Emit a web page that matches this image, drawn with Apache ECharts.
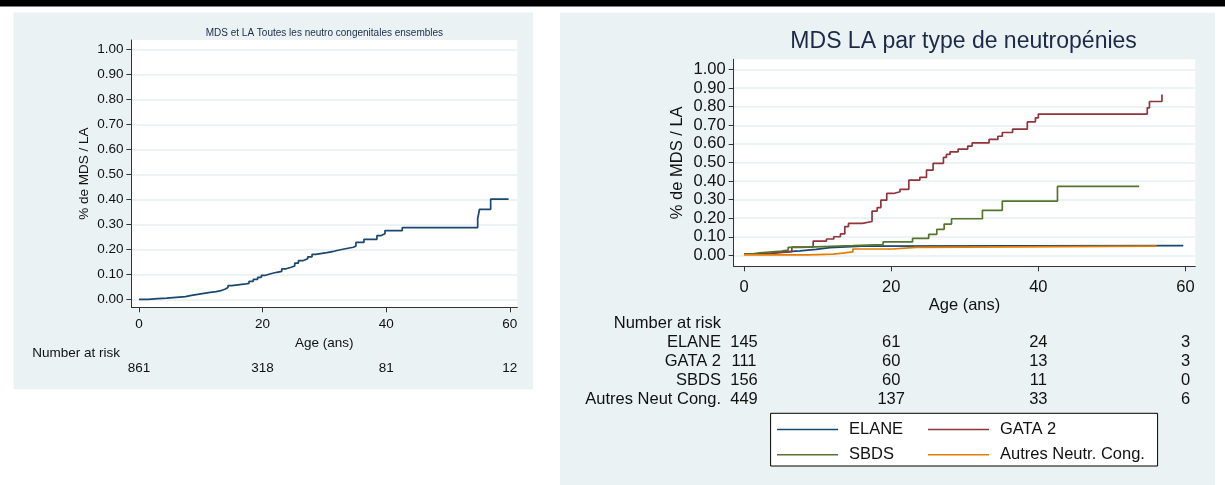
<!DOCTYPE html>
<html><head><meta charset="utf-8">
<script src="https://cdn.jsdelivr.net/npm/echarts@6/dist/echarts.min.js"></script>
<style>html,body{margin:0;padding:0;background:#fff}#c{width:1225px;height:485px}</style>
</head><body><div id="c"></div>
<script>
// ---------- data ----------
const yTicks = [0, 0.1, 0.2, 0.3, 0.4, 0.5, 0.6, 0.7, 0.8, 0.9, 1.0];
const xTicks = [0, 20, 40, 60];

// Left panel: all congenital neutropenias
const allAges = [0, 1.5, 3, 4.5, 6, 7.5, 8.5, 9.5, 10.5, 11.5, 12.5, 13.3, 13.9, 14.4, 15, 17.3, 17.8, 18.5, 19.2, 19.8, 20.5, 21.3, 22.3, 23.1, 23.8, 24.5, 25.2, 25.8, 26.6, 27.3, 28, 28.6, 30.4, 31.5, 32.6, 33.6, 34.7, 35.1, 36.4, 38.5, 39.2, 39.8, 42.6, 54.8, 55.1, 56.9, 59.8];
const allVals = [0, 0.003, 0.005, 0.008, 0.011, 0.016, 0.02, 0.024, 0.028, 0.031, 0.035, 0.04, 0.047, 0.055, 0.062, 0.064, 0.072, 0.08, 0.088, 0.096, 0.102, 0.108, 0.112, 0.122, 0.127, 0.133, 0.145, 0.155, 0.162, 0.17, 0.18, 0.187, 0.192, 0.198, 0.203, 0.208, 0.213, 0.228, 0.24, 0.255, 0.262, 0.275, 0.287, 0.323, 0.36, 0.401, 0.401];
const riskAll = [861, 318, 81, 12];

// Right panel: by neutropenia type
const elaneAges = [0, 1.5, 3.5, 4.9, 7.6, 9.8, 11.7, 16, 59.7];
const elaneVals = [0.007, 0.01, 0.017, 0.024, 0.032, 0.042, 0.05, 0.052, 0.052];
const gataAges = [0, 2.5, 4.5, 6.5, 9.4, 11.2, 12.2, 13.1, 13.7, 14.2, 16.1, 17.4, 18.1, 18.6, 19.4, 20.3, 21.2, 22.4, 23.9, 24.8, 25.7, 27.1, 27.5, 28, 29.1, 30.4, 31, 33.3, 34.5, 35.1, 36.5, 38.5, 39.6, 40, 54.8, 55.1, 56.8];
const gataVals = [0.007, 0.013, 0.02, 0.045, 0.077, 0.088, 0.1, 0.115, 0.155, 0.172, 0.182, 0.238, 0.257, 0.297, 0.333, 0.342, 0.355, 0.405, 0.42, 0.459, 0.495, 0.527, 0.543, 0.557, 0.572, 0.588, 0.605, 0.624, 0.641, 0.661, 0.679, 0.718, 0.74, 0.76, 0.794, 0.828, 0.866];
const sbdsAges = [0, 1, 2.1, 5.1, 6, 7.6, 14.8, 18.9, 22.9, 25.1, 26.2, 27.2, 28.2, 32.4, 35.1, 42.6, 53.7];
const sbdsVals = [0.007, 0.014, 0.023, 0.028, 0.043, 0.052, 0.058, 0.072, 0.091, 0.113, 0.14, 0.168, 0.197, 0.242, 0.292, 0.371, 0.371];
const autresAges = [0, 8.7, 12.1, 13.7, 14.8, 20.2, 23.4, 56.1];
const autresVals = [0.002, 0.007, 0.013, 0.019, 0.034, 0.043, 0.05, 0.05];

const seriesNames = ['ELANE', 'GATA 2', 'SBDS', 'Autres Neutr. Cong.'];
const riskRowNames = ['ELANE', 'GATA 2', 'SBDS', 'Autres Neut Cong.'];
const riskElane = [145, 61, 24, 3];
const riskGata = [111, 60, 13, 3];
const riskSbds = [156, 60, 11, 0];
const riskAutres = [449, 137, 33, 6];

// ---------- styling ----------
const FONT = '"Liberation Sans", Arial, Helvetica, sans-serif';
const TXT = '#111';
const GRIDC = '#e6eff1';
const AXC = '#333';
const COLORS = ['#1a476f', '#90353b', '#55752f', '#e37e00'];

const zip = (a, b) => a.map((x, i) => [x, b[i]]);

// Left panel geometry
const L = { left: 131.4, top: 40, width: 385.9, height: 267.3, xmin: -1.23, xmax: 61.21, ymin: -0.032, ymax: 1.037, fs: 13.5 };
// Right panel geometry
const R = { left: 733.7, top: 59.3, width: 461.6, height: 207, xmin: -1.4, xmax: 61.33, ymin: -0.059, ymax: 1.055, fs: 16.5 };

function mainX(g, P, labelMargin, nameGap) {
  return {
    type: 'value', gridIndex: g, min: P.xmin, max: P.xmax, position: 'bottom',
    axisLine: { show: true, onZero: false, lineStyle: { color: AXC, width: 1 } },
    axisTick: { show: true, length: 5, customValues: xTicks, lineStyle: { color: AXC } },
    axisLabel: { show: true, customValues: xTicks, margin: labelMargin, color: TXT, fontSize: P.fs, fontFamily: FONT },
    splitLine: { show: false },
    name: 'Age (ans)', nameLocation: 'middle', nameGap: nameGap,
    nameTextStyle: { color: TXT, fontSize: P.fs, fontFamily: FONT }
  };
}
function mainY(g, P, labelMargin, nameGap) {
  return {
    type: 'value', gridIndex: g, min: P.ymin, max: P.ymax,
    axisLine: { show: true, onZero: false, lineStyle: { color: AXC, width: 1 } },
    axisTick: { show: true, length: 5, customValues: yTicks, lineStyle: { color: AXC } },
    axisLabel: { show: true, customValues: yTicks, margin: labelMargin, color: TXT, fontSize: P.fs, fontFamily: FONT,
      formatter: v => v.toFixed(2) },
    splitLine: { show: true, lineStyle: { color: GRIDC, width: 1.5 } },
    name: '% de MDS / LA', nameLocation: 'middle', nameGap: nameGap, nameRotate: 90,
    nameTextStyle: { color: TXT, fontSize: P.fs, fontFamily: FONT }
  };
}
function riskAxis(g, P, offset, name, nameGap, values) {
  return {
    type: 'value', gridIndex: g, min: P.xmin, max: P.xmax, position: 'bottom', offset: offset,
    axisLine: { show: false, onZero: false }, axisTick: { show: false }, splitLine: { show: false },
    axisLabel: values ? {
      show: true, customValues: xTicks, margin: 0, verticalAlign: 'middle',
      color: TXT, fontSize: P.fs, fontFamily: FONT,
      formatter: v => { const i = xTicks.indexOf(v); return i >= 0 ? String(values[i]) : ''; }
    } : { show: false },
    name: name || '', nameLocation: 'start', nameGap: nameGap,
    nameTextStyle: { color: TXT, fontSize: P.fs, fontFamily: FONT, align: 'right', verticalAlign: 'middle' }
  };
}

const xAxes = [
  mainX(0, L, 10, 22.7),
  riskAxis(0, L, 46, 'Number at risk', 11.4, null),
  riskAxis(0, L, 61, '', 0, riskAll),
  mainX(1, R, 12.5, 27.5),
  riskAxis(1, R, 57, 'Number at risk', 12.7, null),
  riskAxis(1, R, 76, riskRowNames[0], 12.7, riskElane),
  riskAxis(1, R, 94.7, riskRowNames[1], 12.7, riskGata),
  riskAxis(1, R, 113.7, riskRowNames[2], 12.7, riskSbds),
  riskAxis(1, R, 132.7, riskRowNames[3], 12.7, riskAutres)
];
const yAxes = [mainY(0, L, 8, 40), mainY(1, R, 8, 48)];

function km(name, ages, vals, color, xi, yi) {
  return {
    type: 'line', name: name, xAxisIndex: xi, yAxisIndex: yi, step: 'end',
    data: zip(ages, vals), symbol: 'none', showSymbol: false, silent: true,
    lineStyle: { color: color, width: 1.7 }, itemStyle: { color: color }
  };
}

const legendCommon = {
  orient: 'vertical', itemWidth: 61, itemHeight: 16, itemGap: 8.3, padding: 0,
  selectedMode: false, icon: 'path://M0,0H100V2.6H0Z', symbolKeepAspect: true,
  textStyle: { color: TXT, fontSize: 16.5, fontFamily: FONT, padding: [0, 0, 0, 6] }
};

const option = {
  animation: false,
  backgroundColor: '#ffffff',
  grid: [
    { left: L.left, top: L.top, width: L.width, height: L.height, show: true, backgroundColor: '#ffffff', borderWidth: 0, outerBoundsMode: 'none', containLabel: false },
    { left: R.left, top: R.top, width: R.width, height: R.height, show: true, backgroundColor: '#ffffff', borderWidth: 0, outerBoundsMode: 'none', containLabel: false }
  ],
  xAxis: xAxes,
  yAxis: yAxes,
  legend: [
    Object.assign({}, legendCommon, { data: [seriesNames[0], seriesNames[2]], left: 777, top: 421 }),
    Object.assign({}, legendCommon, { data: [seriesNames[1], seriesNames[3]], left: 928, top: 421 })
  ],
  graphic: [
    { type: 'rect', z: -20, shape: { x: 0, y: 0, width: 1225, height: 6.5 }, style: { fill: '#000' } },
    { type: 'rect', z: -20, shape: { x: 13.6, y: 12.5, width: 519.4, height: 376.8 }, style: { fill: '#eaf2f3' } },
    { type: 'rect', z: -20, shape: { x: 560, y: 12.7, width: 655, height: 472.3 }, style: { fill: '#eaf2f3' } },
    { type: 'rect', z: 2, shape: { x: 770.6, y: 413.3, width: 387, height: 52.7 }, style: { fill: '#ffffff', stroke: '#000', lineWidth: 1 } },
    { type: 'text', z: 5, x: 324.4, y: 33, style: { text: 'MDS et LA Toutes les neutro congenitales ensembles', fontSize: 10, fontFamily: FONT, fill: '#1c2a48', align: 'center', verticalAlign: 'middle', textAlign: 'center', textVerticalAlign: 'middle' } },
    { type: 'text', z: 5, x: 963.6, y: 42, style: { text: 'MDS LA par type de neutropénies', fontSize: 23, fontFamily: FONT, fill: '#1c2a48', align: 'center', verticalAlign: 'middle', textAlign: 'center', textVerticalAlign: 'middle' } }
  ],
  series: [
    km('Toutes', allAges, allVals, COLORS[0], 0, 0),
    km(seriesNames[0], elaneAges, elaneVals, COLORS[0], 3, 1),
    km(seriesNames[1], gataAges, gataVals, COLORS[1], 3, 1),
    km(seriesNames[2], sbdsAges, sbdsVals, COLORS[2], 3, 1),
    km(seriesNames[3], autresAges, autresVals, COLORS[3], 3, 1)
  ]
};
const chart = echarts.init(document.getElementById('c'), null, { renderer: 'canvas' });
chart.setOption(option);
</script></body></html>
